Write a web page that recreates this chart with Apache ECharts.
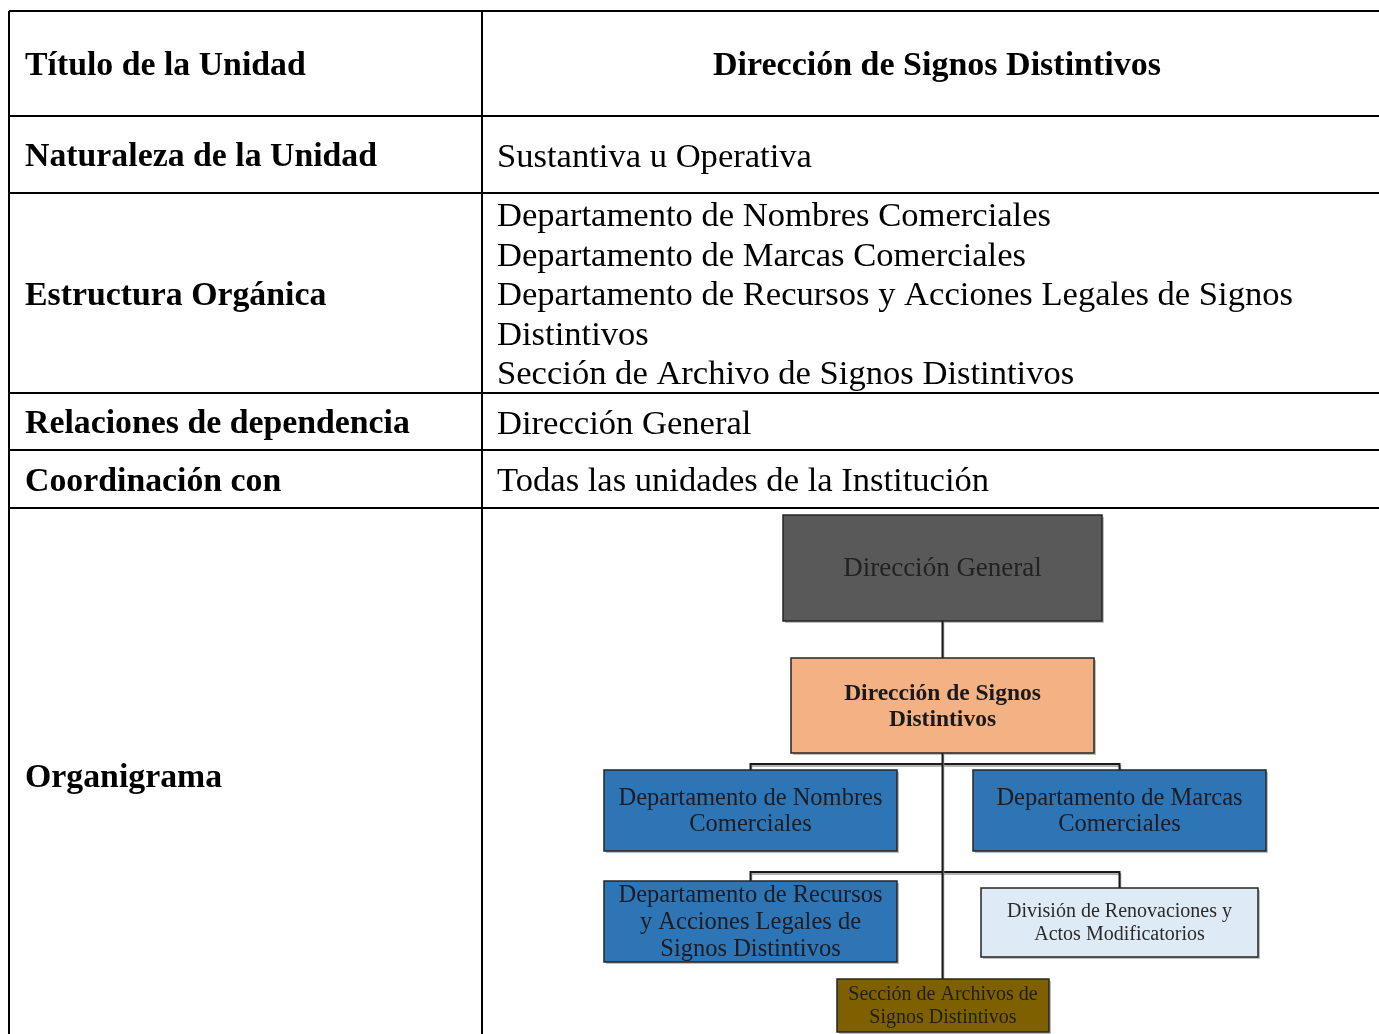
<!DOCTYPE html>
<html>
<head>
<meta charset="utf-8">
<script src="https://cdn.jsdelivr.net/npm/echarts@6/dist/echarts.min.js"></script>
<style>
  html, body { margin: 0; padding: 0; background: #ffffff; }
  #chart { width: 1379px; height: 1034px; }
</style>
</head>
<body>
<div id="chart"></div>
<script>
// ---------- DATA ----------
const rowLabels = [
  'Título de la Unidad',
  'Naturaleza de la Unidad',
  'Estructura Orgánica',
  'Relaciones de dependencia',
  'Coordinación con',
  'Organigrama'
];
const rowContents = [
  'Dirección de Signos Distintivos',
  'Sustantiva u Operativa',
  'Departamento de Nombres Comerciales\nDepartamento de Marcas Comerciales\nDepartamento de Recursos y Acciones Legales de Signos\nDistintivos\nSección de Archivo de Signos Distintivos',
  'Dirección General',
  'Todas las unidades de la Institución',
  ''
];
const orgUnits = [
  'Dirección General',
  'Dirección de Signos\nDistintivos',
  'Departamento de Nombres\nComerciales',
  'Departamento de Marcas\nComerciales',
  'Departamento de Recursos\ny Acciones Legales de\nSignos Distintivos',
  'División de Renovaciones y\nActos Modificatorios',
  'Sección de Archivos de\nSignos Distintivos'
];
const orgParent = [-1, 0, 1, 1, 1, 1, 1];

// ---------- LAYOUT / STYLE (not data) ----------
const FONT = '"Liberation Serif", "DejaVu Serif", serif';
const rowEdges = [11, 116, 193, 393, 450, 508, 1042];
const colEdges = [9, 482, 1392];
const labelX = 25, contentX = 497, textShift = 3;
// org boxes: [x0, y0, x1, y1]
const orgBoxes = [
  [783, 515, 1102, 621],
  [791, 658, 1094, 753],
  [604, 770, 897, 851],
  [973, 770, 1266, 851],
  [604, 881, 897, 962],
  [981, 888, 1258, 957],
  [837, 979, 1049, 1032]
];
const orgBusY = [null, null, 764, 764, 872, 872, null];
const orgStyle = [
  { fill: '#595959', color: '#222222', size: 27, lh: 30, bold: false },
  { fill: '#F4B183', color: '#1a1a1a', size: 23.5, lh: 26, bold: true },
  { fill: '#2E75B6', color: '#1c1c24', size: 24.5, lh: 26, bold: false },
  { fill: '#2E75B6', color: '#1c1c24', size: 24.5, lh: 26, bold: false },
  { fill: '#2E75B6', color: '#1c1c24', size: 24.5, lh: 27, bold: false },
  { fill: '#DEEBF7', color: '#2a2a2a', size: 20, lh: 23, bold: false },
  { fill: '#7F6000', color: '#1f1f14', size: 20, lh: 23, bold: false }
];

const chart = echarts.init(document.getElementById('chart'), null, { renderer: 'canvas' });

function tableItem(params, api) {
  const i = api.value(0);
  const y0 = rowEdges[i], y1 = rowEdges[i + 1];
  const ym = (y0 + y1) / 2 + textShift;
  const P = (x, y) => api.coord([x, y]);
  const line = (a, b) => ({
    type: 'line',
    shape: { x1: a[0], y1: a[1], x2: b[0], y2: b[1] },
    style: { stroke: '#000', lineWidth: 2 }
  });
  const children = [
    line(P(colEdges[0], y0), P(colEdges[2], y0)),
    line(P(colEdges[0], y1), P(colEdges[2], y1)),
    line(P(colEdges[0], y0), P(colEdges[0], y1)),
    line(P(colEdges[1], y0), P(colEdges[1], y1)),
    line(P(colEdges[2], y0), P(colEdges[2], y1))
  ];
  const lp = P(labelX, ym);
  children.push({
    type: 'text', x: lp[0], y: lp[1],
    style: { text: rowLabels[i], font: 'bold 33.8px ' + FONT, fill: '#000', textAlign: 'left', textVerticalAlign: 'middle' }
  });
  if (rowContents[i]) {
    const center = i === 0;
    const cp = center ? P((colEdges[1] + colEdges[2]) / 2, ym) : P(contentX, ym);
    children.push({
      type: 'text', x: cp[0], y: cp[1],
      style: {
        text: rowContents[i],
        font: (center ? 'bold 34px ' : '34.6px ') + FONT,
        fill: '#000', lineHeight: 39.5,
        textAlign: center ? 'center' : 'left', textVerticalAlign: 'middle'
      }
    });
  }
  return { type: 'group', children };
}

function connectorItem(params, api) {
  const i = api.value(0);
  const p = orgParent[i];
  if (p < 0) return null;
  const pb = orgBoxes[p], cb = orgBoxes[i];
  const pcx = (pb[0] + pb[2]) / 2, ccx = (cb[0] + cb[2]) / 2;
  let pts;
  if (orgBusY[i] == null) {
    pts = [[pcx, pb[3]], [pcx, cb[1]]];
  } else {
    pts = [[pcx, orgBusY[i]], [ccx, orgBusY[i]], [ccx, cb[1]]];
  }
  const c = pts.map(q => api.coord(q));
  return {
    type: 'group',
    children: [
      { type: 'polyline', shape: { points: c.map(q => [q[0] + 1, q[1] + 2]) }, style: { stroke: '#9a9a9a', lineWidth: 1.5, fill: null } },
      { type: 'polyline', shape: { points: c }, style: { stroke: '#1a1a1a', lineWidth: 2, fill: null } }
    ]
  };
}

function boxItem(params, api) {
  const i = api.value(0);
  const b = orgBoxes[i];
  const s = orgStyle[i];
  const a = api.coord([b[0], b[1]]), z = api.coord([b[2], b[3]]);
  return {
    type: 'group',
    children: [
      { type: 'rect', shape: { x: a[0] + 2, y: a[1] + 2, width: z[0] - a[0], height: z[1] - a[1] }, style: { fill: 'rgba(0,0,0,0.25)' } },
      { type: 'rect', shape: { x: a[0], y: a[1], width: z[0] - a[0], height: z[1] - a[1] }, style: { fill: s.fill, stroke: '#262626', lineWidth: 1.5 } },
      {
        type: 'text', x: (a[0] + z[0]) / 2, y: (a[1] + z[1]) / 2 + 1,
        style: {
          text: orgUnits[i], font: (s.bold ? 'bold ' : '') + s.size + 'px ' + FONT,
          fill: s.color, lineHeight: s.lh, textAlign: 'center', textVerticalAlign: 'middle'
        }
      }
    ]
  };
}

chart.setOption({
  animation: false,
  backgroundColor: '#ffffff',
  grid: { left: 0, right: 0, top: 0, bottom: 0 },
  xAxis: { type: 'value', min: 0, max: 1379, show: false },
  yAxis: { type: 'value', min: 0, max: 1034, inverse: true, show: false },
  series: [
    { type: 'custom', clip: false, renderItem: tableItem, data: rowLabels.map((_, i) => [i]), z: 1 },
    { type: 'custom', clip: false, renderItem: connectorItem, data: orgUnits.map((_, i) => [i]), z: 2 },
    { type: 'custom', clip: false, renderItem: boxItem, data: orgUnits.map((_, i) => [i]), z: 3 }
  ]
});
</script>
</body>
</html>
